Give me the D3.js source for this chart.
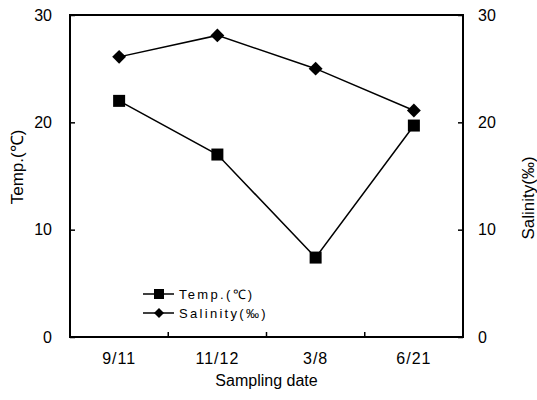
<!DOCTYPE html>
<html>
<head>
<meta charset="utf-8">
<script src="https://cdn.jsdelivr.net/npm/d3@7"></script>
<style>
  body { margin: 0; background: #fff; }
  text { font-family: Arial, "Liberation Sans", sans-serif; fill: #000; }
</style>
</head>
<body>
<svg id="chart"></svg>
<script>
const dates = ["9/11", "11/12", "3/8", "6/21"];
const temp = [22.0, 17.0, 7.4, 19.7];
const salinity = [26.1, 28.1, 25.0, 21.1];
const yTicks = [0, 10, 20, 30];

const width = 537, height = 400;
const margin = { top: 15, right: 74, bottom: 63, left: 70 };
const innerW = width - margin.left - margin.right;
const innerH = height - margin.top - margin.bottom;

const svg = d3.select("#chart").attr("width", width).attr("height", height);
const g = svg.append("g").attr("transform", `translate(${margin.left},${margin.top})`);

const x = d3.scaleBand().domain(dates).range([0, innerW]);
const yL = d3.scaleLinear().domain([0, 30]).range([innerH, 0]);
const yR = d3.scaleLinear().domain([0, 30]).range([innerH, 0]);

// frame
g.append("rect").attr("width", innerW).attr("height", innerH)
  .attr("fill", "none").attr("stroke", "#000").attr("stroke-width", 2);

// left axis
const leftAxis = g.append("g")
  .call(d3.axisRight(yL).tickValues(yTicks).tickSize(5).tickFormat(d3.format("d")));
leftAxis.select(".domain").remove();
leftAxis.selectAll("line").attr("stroke-width", 1.5);
leftAxis.selectAll("text").attr("x", -18).attr("text-anchor", "end")
  .style("font-size", "16px");

// right axis
const rightAxis = g.append("g").attr("transform", `translate(${innerW},0)`)
  .call(d3.axisLeft(yR).tickValues(yTicks).tickSize(5).tickFormat(d3.format("d")));
rightAxis.select(".domain").remove();
rightAxis.selectAll("line").attr("stroke-width", 1.5);
rightAxis.selectAll("text").attr("x", 15).attr("text-anchor", "start")
  .style("font-size", "16px");

// bottom axis: ticks on band boundaries
g.selectAll(".xtick").data(dates.slice(1)).join("line")
  .attr("x1", d => x(d)).attr("x2", d => x(d))
  .attr("y1", innerH).attr("y2", innerH - 5)
  .attr("stroke", "#000").attr("stroke-width", 1.5);
g.selectAll(".xlabel").data(dates).join("text")
  .attr("x", d => x(d) + x.bandwidth() / 2)
  .attr("y", innerH + 27)
  .attr("text-anchor", "middle")
  .style("font-size", "16px")
  .style("letter-spacing", "1px")
  .text(d => d);

// axis titles
svg.append("text").attr("x", margin.left + innerW / 2).attr("y", 386)
  .attr("text-anchor", "middle").style("font-size", "16px").text("Sampling date");
svg.append("text").attr("transform", "translate(23,167) rotate(-90)")
  .attr("text-anchor", "middle").style("font-size", "17px").text("Temp.(℃)");
svg.append("text").attr("transform", "translate(534,198) rotate(-90)")
  .attr("text-anchor", "middle").style("font-size", "17px").text("Salinity(‰)");

const cx = d => x(d) + x.bandwidth() / 2;

// temp line
g.append("path")
  .datum(dates.map((d, i) => [cx(d), yL(temp[i])]))
  .attr("fill", "none").attr("stroke", "#000").attr("stroke-width", 1.5)
  .attr("d", d3.line());
g.selectAll(".sq").data(dates).join("rect")
  .attr("x", d => cx(d) - 6).attr("y", (d, i) => yL(temp[i]) - 6)
  .attr("width", 12).attr("height", 12).attr("fill", "#000");

// salinity line
g.append("path")
  .datum(dates.map((d, i) => [cx(d), yR(salinity[i])]))
  .attr("fill", "none").attr("stroke", "#000").attr("stroke-width", 1.5)
  .attr("d", d3.line());
const diamond = d3.symbol().type(d3.symbolSquare).size(96);
g.selectAll(".dm").data(dates).join("path")
  .attr("transform", (d, i) => `translate(${cx(d)},${yR(salinity[i])}) rotate(45)`)
  .attr("d", diamond).attr("fill", "#000");

// legend
const legend = svg.append("g").attr("transform", "translate(143,294)");
legend.append("line").attr("x1", 0).attr("x2", 31).attr("y1", 0).attr("y2", 0)
  .attr("stroke", "#000").attr("stroke-width", 1.5);
legend.append("rect").attr("x", 11).attr("y", -5).attr("width", 10).attr("height", 10).attr("fill", "#000");
legend.append("text").attr("x", 36).attr("y", 5).style("font-size", "13px")
  .style("letter-spacing", "2.3px").text("Temp.(℃)");
legend.append("line").attr("x1", 0).attr("x2", 31).attr("y1", 19).attr("y2", 19)
  .attr("stroke", "#000").attr("stroke-width", 1.5);
legend.append("path").attr("transform", "translate(16,19) rotate(45)")
  .attr("d", d3.symbol().type(d3.symbolSquare).size(50)).attr("fill", "#000");
legend.append("text").attr("x", 36).attr("y", 24).style("font-size", "13px")
  .style("letter-spacing", "2.3px").text("Salinity(‰)");
</script>
</body>
</html>
